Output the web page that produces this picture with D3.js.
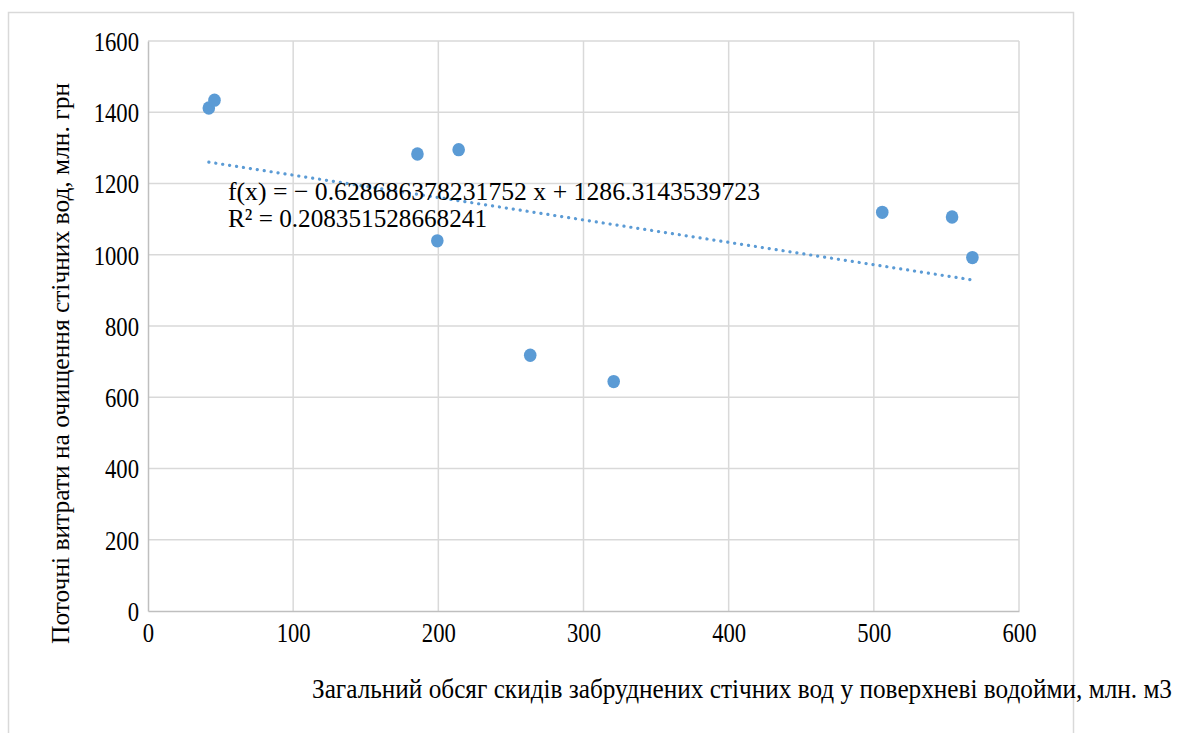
<!DOCTYPE html>
<html>
<head>
<meta charset="utf-8">
<script src="https://cdn.jsdelivr.net/npm/d3@7"></script>
<style>
  html, body { margin: 0; padding: 0; background: #fff; }
  svg { display: block; }
  text { font-family: "Liberation Serif", "Times New Roman", serif; fill: #000; }
</style>
</head>
<body>
<svg id="chart" width="1179" height="733"></svg>
<script>
// ---- data ----
const xValues = [41.9, 45.8, 185.6, 214.0, 199.3, 263.3, 320.8, 505.8, 553.9, 567.9];
const yValues = [1412, 1434, 1283, 1295, 1039, 718, 644, 1119, 1106, 992];
const xTicks = [0, 100, 200, 300, 400, 500, 600];
const yTicks = [0, 200, 400, 600, 800, 1000, 1200, 1400, 1600];
const trendSlope = -0.628686378231752;
const trendIntercept = 1286.3143539723;
const equationLines = ["f(x) = − 0.628686378231752 x + 1286.3143539723", "R² = 0.208351528668241"];
const xTitle = "Загальний обсяг скидів забруднених стічних вод у поверхневі водойми, млн. м3";
const yTitle = "Поточні витрати на очищення стічних вод, млн. грн";

// ---- layout ----
const svg = d3.select("#chart");
const plot = { left: 148, right: 1019, top: 41, bottom: 611 };
const x = d3.scaleLinear().domain([0, 600]).range([plot.left, plot.right]);
const y = d3.scaleLinear().domain([0, 1600]).range([plot.bottom, plot.top]);
const blue = "#5b9bd5";

// outer chart border
svg.append("rect").attr("x", 8.5).attr("y", 12.5).attr("width", 1065).attr("height", 760)
  .attr("fill", "none").attr("stroke", "#d9d9d9").attr("stroke-width", 1.5);

// gridlines
svg.append("g").selectAll("line.h").data(yTicks.filter(d => d > 0)).join("line")
  .attr("x1", plot.left).attr("x2", plot.right)
  .attr("y1", d => y(d)).attr("y2", d => y(d))
  .attr("stroke", "#d9d9d9").attr("stroke-width", 1.5);
svg.append("g").selectAll("line.v").data(xTicks.filter(d => d > 0)).join("line")
  .attr("x1", d => x(d)).attr("x2", d => x(d))
  .attr("y1", plot.top).attr("y2", plot.bottom)
  .attr("stroke", "#d9d9d9").attr("stroke-width", 1.5);

// axes
const xAxis = svg.append("g").attr("transform", `translate(0,${plot.bottom})`)
  .call(d3.axisBottom(x).tickValues(xTicks).tickSize(0).tickPadding(10).tickFormat(d3.format("d")));
const yAxis = svg.append("g").attr("transform", `translate(${plot.left},0)`)
  .call(d3.axisLeft(y).tickValues(yTicks).tickSize(0).tickPadding(9).tickFormat(d3.format("d")));
[xAxis, yAxis].forEach(a => {
  a.attr("font-family", null).attr("font-size", null);
  a.select(".domain").attr("stroke", "#bfbfbf").attr("stroke-width", 1.5);
  a.selectAll("text").style("font-family", "'Liberation Serif', 'Times New Roman', serif")
    .style("font-size", "27px").attr("fill", "#000");
});
xAxis.selectAll("text").attr("dy", "0.71em").attr("y", 12);
yAxis.selectAll("text").attr("dy", "0.35em");

// trendline
const xMin = d3.min(xValues), xMax = d3.max(xValues);
svg.append("line")
  .attr("x1", x(xMin)).attr("y1", y(trendSlope * xMin + trendIntercept))
  .attr("x2", x(xMax)).attr("y2", y(trendSlope * xMax + trendIntercept))
  .attr("stroke", blue).attr("stroke-width", 3.2).attr("stroke-linecap", "round")
  .attr("stroke-dasharray", "0.1 6.9");

// points
svg.append("g").selectAll("ellipse").data(xValues.map((v, i) => [v, yValues[i]])).join("ellipse")
  .attr("cx", d => x(d[0])).attr("cy", d => y(d[1]))
  .attr("rx", 6.3).attr("ry", 6.7).attr("fill", blue);

// equation
svg.append("text").attr("x", 228).attr("y", 200).style("font-size", "26px")
  .attr("textLength", 532).attr("lengthAdjust", "spacingAndGlyphs").text(equationLines[0]);
svg.append("text").attr("x", 228).attr("y", 227).style("font-size", "26px")
  .attr("textLength", 259).attr("lengthAdjust", "spacingAndGlyphs").text(equationLines[1]);

// axis titles
svg.append("text").attr("x", 312).attr("y", 698).style("font-size", "27px")
  .attr("textLength", 860).attr("lengthAdjust", "spacingAndGlyphs").text(xTitle);
svg.append("text").attr("transform", "translate(69,644) rotate(-90)").style("font-size", "26px")
  .attr("textLength", 561).attr("lengthAdjust", "spacingAndGlyphs").text(yTitle);

// condense tick labels horizontally
svg.selectAll(".tick text").each(function() {
  const len = this.getComputedTextLength();
  d3.select(this).attr("textLength", len * 0.84).attr("lengthAdjust", "spacingAndGlyphs");
});
</script>
</body>
</html>
